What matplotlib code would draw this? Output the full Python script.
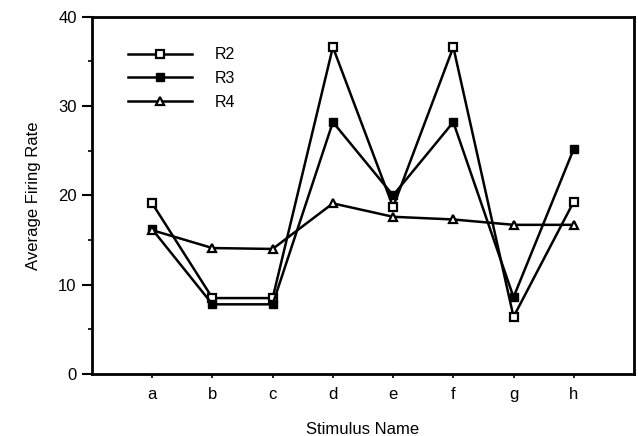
import matplotlib
matplotlib.use("Agg")
import matplotlib.pyplot as plt
from matplotlib.ticker import MultipleLocator

plt.rcParams['font.family'] = ['Liberation Sans', 'DejaVu Sans']

categories = ['a', 'b', 'c', 'd', 'e', 'f', 'g', 'h']
r2 = [19.1, 8.5, 8.5, 36.6, 18.7, 36.6, 6.4, 19.3]
r3 = [16.2, 7.8, 7.8, 28.2, 20.0, 28.2, 8.6, 25.2]
r4 = [16.1, 14.1, 14.0, 19.1, 17.6, 17.3, 16.7, 16.7]
series_names = ['R2', 'R3', 'R4']

fig = plt.figure(figsize=(6.38, 4.36), dpi=100)
ax = fig.add_axes([0.1442, 0.1422, 0.8495, 0.8195])

x = list(range(1, len(categories) + 1))
ax.plot(x, r2, '-', color='black', lw=1.8, marker='s', ms=5.5, mfc='white', mec='black', mew=1.6, label=series_names[0])
ax.plot(x, r3, '-', color='black', lw=1.8, marker='s', ms=6, mfc='black', mec='black', label=series_names[1])
ax.plot(x, r4, '-', color='black', lw=1.8, marker='^', ms=6, mfc='white', mec='black', mew=1.6, label=series_names[2])

ax.set_xlim(0, 9)
ax.set_ylim(0, 40)
ax.set_xticks(x)
ax.set_xticklabels(categories)
ax.yaxis.set_major_locator(MultipleLocator(10))
ax.yaxis.set_minor_locator(MultipleLocator(5))

for s in ax.spines.values():
    s.set_linewidth(2)
ax.tick_params(axis='y', which='major', direction='out', length=7, width=1.5, labelsize=12, pad=4)
ax.tick_params(axis='y', which='minor', direction='out', length=3, width=1.2)
ax.tick_params(axis='x', which='major', direction='out', length=3, width=1.2, labelsize=12, pad=6)

ax.set_xlabel('Stimulus Name', fontsize=12, labelpad=15)
ax.set_ylabel('Average Firing Rate', fontsize=12, labelpad=12)

ax.legend(loc='upper left', bbox_to_anchor=(0.04, 0.955), frameon=False, handlelength=4.0,
          handletextpad=1.4, fontsize=11.5, labelspacing=0.55)

fig.savefig('out.png', dpi=100)
